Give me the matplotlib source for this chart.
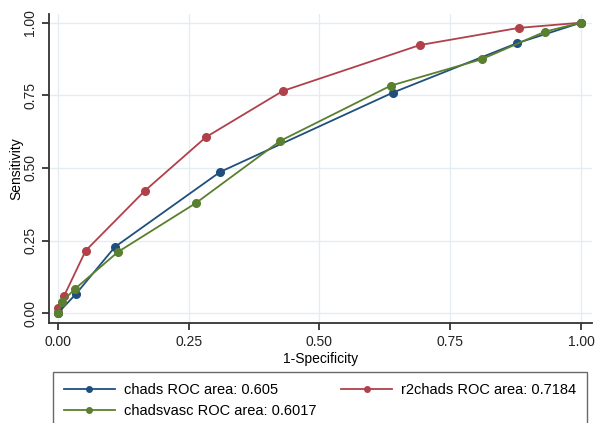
import numpy as np
import matplotlib
matplotlib.use('Agg')
import matplotlib.pyplot as plt

plt.rcParams['font.family'] = ['Liberation Sans', 'DejaVu Sans']

# ROC points
chads_fpr = [0.0, 0.034, 0.109, 0.31, 0.64, 0.877, 1.0]
chads_tpr = [0.0, 0.065, 0.228, 0.486, 0.759, 0.929, 1.0]

r2chads_fpr = [0.0, 0.001, 0.012, 0.053, 0.166, 0.283, 0.430, 0.692, 0.881, 1.0]
r2chads_tpr = [0.0, 0.017, 0.06, 0.215, 0.421, 0.606, 0.765, 0.923, 0.982, 1.0]

chadsvasc_fpr = [0.0, 0.007, 0.033, 0.115, 0.263, 0.425, 0.636, 0.81, 0.931, 1.0]
chadsvasc_tpr = [0.0, 0.038, 0.084, 0.211, 0.378, 0.593, 0.783, 0.874, 0.969, 1.0]

labels = ['chads ROC area: 0.605', 'r2chads ROC area: 0.7184',
          'chadsvasc ROC area: 0.6017']
ticks = [0.0, 0.25, 0.5, 0.75, 1.0]
tick_labels = ['0.00', '0.25', '0.50', '0.75', '1.00']

fig = plt.figure(figsize=(5.95, 4.23), dpi=100)
ax = fig.add_axes([0.0824, 0.2364, 0.9126, 0.7306])

navy = '#1f4f7e'
maroon = '#b0414a'
green = '#5a7f2e'

l1, = ax.plot(chads_fpr, chads_tpr, color=navy, lw=1.3, marker='o', ms=5.5, zorder=3)
l2, = ax.plot(r2chads_fpr, r2chads_tpr, color=maroon, lw=1.3, marker='o', ms=5.5, zorder=2)
l3, = ax.plot(chadsvasc_fpr, chadsvasc_tpr, color=green, lw=1.3, marker='o', ms=5.5, zorder=4)

ax.set_xlim(-0.017, 1.021)
ax.set_ylim(-0.034, 1.03)
ax.set_xticks(ticks)
ax.set_xticklabels(tick_labels)
ax.set_yticks(ticks)
ax.set_yticklabels(tick_labels, rotation=90, va='center')
ax.grid(True, color='#e4eef2', lw=1.0)
ax.set_axisbelow(True)
for s in ['top', 'right']:
    ax.spines[s].set_visible(False)
for s in ['left', 'bottom']:
    ax.spines[s].set_linewidth(1.3)
    ax.spines[s].set_color('#333333')
ax.tick_params(direction='out', length=5, width=1.2, labelsize=10, colors='#222222')
ax.set_xlabel('1-Specificity', fontsize=10, labelpad=2)
ax.set_ylabel('Sensitivity', fontsize=10)
ax.yaxis.set_label_coords(-0.048, 0.5)

# column-wise fill: chads / chadsvasc in first column, r2chads in second
leg = fig.legend([l1, l3, l2], [labels[0], labels[2], labels[1]], ncol=2,
                 loc='upper left', bbox_to_anchor=(0.089, 0.0, 0.8976, 0.1206),
                 mode='expand', frameon=True, fancybox=False, edgecolor='#444444',
                 fontsize=10.5, handlelength=3.5, handletextpad=0.6,
                 borderpad=0.75, borderaxespad=0, labelspacing=0.5)
leg.get_frame().set_linewidth(1.0)
for h in leg.legend_handles:
    h.set_markersize(4)

fig.savefig('out.png', dpi=100)
